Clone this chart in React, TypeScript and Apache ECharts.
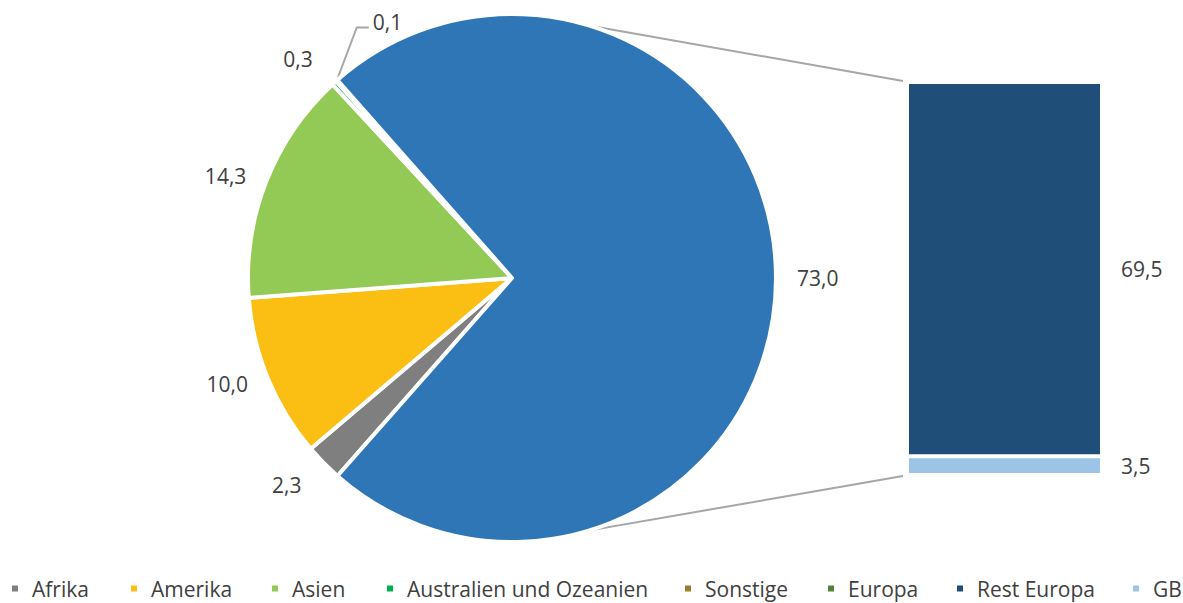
import React, { useEffect, useRef } from "react";
import * as echarts from "echarts";

const pieNames = ["Afrika", "Amerika", "Asien", "Australien und Ozeanien", "Sonstige", "Europa"];
const pieValues = [2.3, 10.0, 14.3, 0.3, 0.1, 73.0];
const pieColors = ["#7f7f7f", "#fbbf14", "#93c955", "#00b050", "#9b7a2c", "#2f76b6"];

const barNames = ["Rest Europa", "GB"];
const barValues = [69.5, 3.5];
const barColors = ["#1f4e79", "#9dc3e6"];

const legendNames = ["Afrika", "Amerika", "Asien", "Australien und Ozeanien", "Sonstige", "Europa", "Rest Europa", "GB"];
const legendEuropaColor = "#548235";
const legendLefts = [10, 129, 270, 385, 683, 826, 955, 1131];

const FONT = "Open Sans";
const TEXT = "#404040";
const FS = 21;
const CENTER: [number, number] = [512, 278];
const RADIUS = 264;
const BORDER = 4;
const BAR_BORDER = 2;

const fmt = (v: number) => v.toFixed(1).replace(".", ",");

export default function App() {
  const ref = useRef<HTMLDivElement>(null);

  useEffect(() => {
    if (!ref.current) return;
    const chart = echarts.init(ref.current, undefined, { renderer: "svg" });

    const total = pieValues.reduce((a, b) => a + b, 0);
    const europa = pieValues[pieValues.length - 1];
    const startAngle = 360 - (europa / total) * 180;
    const barTotal = barValues.reduce((a, b) => a + b, 0);

    const pieData = pieNames.map((n, i) => {
      const d: any = { name: n, value: pieValues[i], itemStyle: { color: pieColors[i] } };
      if (n === "Afrika") {
        d.labelLine = { show: false, length: 31, length2: 0 };
        d.label = { distanceToLabelLine: 0 };
      }
      if (n === "Australien und Ozeanien") {
        d.labelLine = { show: false, length: 32, length2: 0 };
        d.label = { distanceToLabelLine: 0 };
      }
      if (n === "Sonstige") {
        d.labelLine = { show: true, length: 16, length2: 0, lineStyle: { color: "#a6a6a6", width: 2 } };
      }
      return d;
    });

    const legends = legendNames.map((n, i) => ({
      left: legendLefts[i],
      top: 578,
      padding: 0,
      selectedMode: false,
      icon: "rect",
      itemWidth: 8,
      itemHeight: 8,
      textStyle: { color: TEXT, fontSize: FS, fontFamily: FONT, padding: [0, 0, 0, 8] },
      data: [n === "Europa" ? { name: n, itemStyle: { color: legendEuropaColor } } : n],
    }));

    // stacked order: bottom first
    const stackOrder = [1, 0];

    chart.setOption({
      animation: false,
      textStyle: { fontFamily: FONT },
      legend: legends,
      grid: { left: 907, width: 195, top: 82, height: 393 },
      xAxis: { type: "category", data: ["Europa"], show: false },
      yAxis: { type: "value", min: 0, max: barTotal, show: false, splitLine: { show: false } },
      series: [
        {
          type: "pie",
          center: CENTER,
          radius: RADIUS,
          startAngle,
          clockwise: true,
          avoidLabelOverlap: false,
          emphasis: { disabled: true },
          itemStyle: { borderColor: "#ffffff", borderWidth: BORDER },
          label: {
            show: true,
            position: "outside",
            formatter: (p: any) => fmt(p.value),
            color: TEXT,
            fontSize: FS,
            fontFamily: FONT,
            distanceToLabelLine: 5,
          },
          labelLine: { show: false, length: 16, length2: 0 },
          labelLayout: (params: any) => {
            if (params.dataIndex === 4 && params.labelLinePoints && params.labelLinePoints[0]) {
              const p0 = params.labelLinePoints[0];
              return {
                x: p0[0] + 36,
                y: p0[1] - 59,
                align: "left",
                verticalAlign: "middle",
                labelLinePoints: [
                  [p0[0], p0[1]],
                  [p0[0] + 20, p0[1] - 53],
                  [p0[0] + 32, p0[1] - 53],
                ],
              };
            }
            return {};
          },
          data: pieData,
        },
        ...stackOrder.map((i) => ({
          type: "bar",
          name: barNames[i],
          stack: "europa",
          barWidth: "100%",
          barCategoryGap: 0,
          emphasis: { disabled: true },
          itemStyle: { color: barColors[i], borderColor: "#ffffff", borderWidth: BAR_BORDER },
          label: {
            show: true,
            position: "right",
            distance: 19,
            formatter: (p: any) => fmt(p.value),
            color: TEXT,
            fontSize: FS,
            fontFamily: FONT,
          },
          data: [barValues[i]],
        })),
      ],
    });

    // connector lines: tangents from bar corners to the pie circle
    const gridModel = (chart as any).getModel().getComponent("grid", 0);
    const rect = gridModel.coordinateSystem.getRect();
    const r = RADIUS - BORDER / 2;
    const tangent = (px: number, py: number, upper: boolean) => {
      const vx = px - CENTER[0];
      const vy = py - CENTER[1];
      const d = Math.sqrt(vx * vx + vy * vy);
      const base = Math.atan2(vy, vx);
      const alpha = Math.acos(r / d);
      const c1 = [CENTER[0] + r * Math.cos(base - alpha), CENTER[1] + r * Math.sin(base - alpha)];
      const c2 = [CENTER[0] + r * Math.cos(base + alpha), CENTER[1] + r * Math.sin(base + alpha)];
      if (upper) return c1[1] < c2[1] ? c1 : c2;
      return c1[1] > c2[1] ? c1 : c2;
    };
    const topP = [rect.x - 4, rect.y - 1];
    const botP = [rect.x - 4, rect.y + rect.height + 1];
    const t1 = tangent(topP[0], topP[1], true);
    const t2 = tangent(botP[0], botP[1], false);
    chart.setOption({
      graphic: [
        {
          type: "line",
          silent: true,
          shape: { x1: t1[0], y1: t1[1], x2: topP[0], y2: topP[1] },
          style: { stroke: "#a6a6a6", lineWidth: 2 },
        },
        {
          type: "line",
          silent: true,
          shape: { x1: t2[0], y1: t2[1], x2: botP[0], y2: botP[1] },
          style: { stroke: "#a6a6a6", lineWidth: 2 },
        },
      ],
    });

    return () => chart.dispose();
  }, []);

  return (
    <div
      ref={ref}
      style={{ position: "absolute", left: 0, top: 0, width: 1183, height: 603 }}
    />
  );
}
